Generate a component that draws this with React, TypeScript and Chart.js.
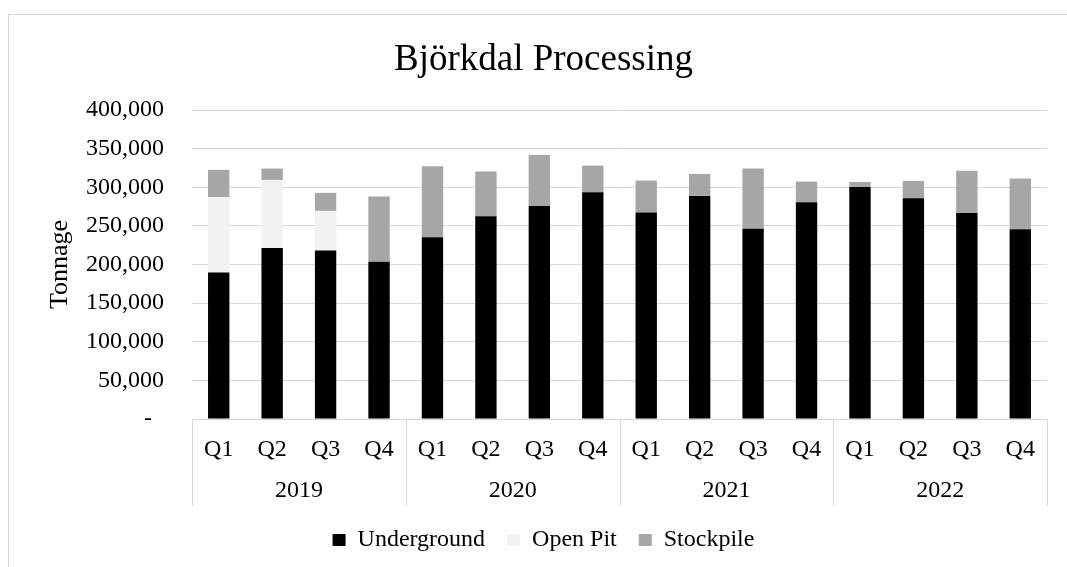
import React, { useEffect, useRef } from "react";
import { Chart, registerables } from "chart.js";

Chart.register(...registerables);

const quarters = ["Q1", "Q2", "Q3", "Q4", "Q1", "Q2", "Q3", "Q4", "Q1", "Q2", "Q3", "Q4", "Q1", "Q2", "Q3", "Q4"];
const years = ["2019", "2020", "2021", "2022"];
const underground = [189500, 221500, 218000, 203700, 235200, 262400, 275800, 293500, 267200, 288800, 246400, 280500, 300400, 285700, 266800, 245500];
const openPit = [97500, 88000, 51400, 0, 0, 0, 0, 0, 0, 0, 0, 0, 0, 0, 0, 0];
const stockpile = [35500, 14700, 23300, 84200, 91900, 57900, 66100, 34500, 41400, 28500, 77800, 26800, 6500, 22500, 54400, 65700];
const seriesNames = ["Underground", "Open Pit", "Stockpile"];
const seriesColors = ["#000000", "#f2f2f2", "#a6a6a6"];

const FONT = "'Liberation Serif', 'Times New Roman', serif";
const GRID = "#d9d9d9";

const groupLines = {
  id: "groupLines",
  afterDraw(chart: any) {
    const xs = chart.scales.x;
    const x2 = chart.scales.x2;
    const ctx = chart.ctx;
    const n = years.length;
    ctx.save();
    ctx.strokeStyle = GRID;
    ctx.lineWidth = 1;
    for (let i = 0; i <= n; i++) {
      const x = Math.round(xs.left + (i * (xs.right - xs.left)) / n) + 0.5;
      ctx.beginPath();
      ctx.moveTo(x, chart.chartArea.bottom);
      ctx.lineTo(x, x2.bottom);
      ctx.stroke();
    }
    ctx.restore();
  },
};

export default function App() {
  const ref = useRef<HTMLCanvasElement | null>(null);
  useEffect(() => {
    if (!ref.current) return;
    const chart = new Chart(ref.current, {
      type: "bar",
      data: {
        labels: quarters,
        datasets: [underground, openPit, stockpile].map((d, i) => ({
          label: seriesNames[i],
          data: d,
          backgroundColor: seriesColors[i],
          borderWidth: 0,
          categoryPercentage: 1,
          barPercentage: 0.4,
        })),
      },
      options: {
        animation: false,
        responsive: false,
        maintainAspectRatio: false,
        layout: { padding: { left: 40, right: 20, top: 0, bottom: 5 } },
        plugins: {
          title: {
            display: true,
            text: "Björkdal Processing",
            color: "#000",
            font: { family: FONT, size: 37, weight: "normal" },
            padding: { top: 38, bottom: 27.6 },
          },
          legend: {
            position: "bottom",
            labels: {
              color: "#000",
              font: { family: FONT, size: 24 },
              boxWidth: 13,
              boxHeight: 12,
              padding: 22,
            },
          },
          tooltip: { enabled: false },
        },
        scales: {
          x: {
            stacked: true,
            grid: { display: false },
            border: { display: false },
            ticks: { color: "#000", font: { family: FONT, size: 24 }, padding: 8, maxRotation: 0, autoSkip: false },
            afterFit: (s: any) => {
              s.height = 41;
            },
          },
          x2: {
            type: "category",
            labels: years,
            position: "bottom",
            weight: 1,
            offset: true,
            grid: { display: false },
            border: { display: false },
            ticks: { color: "#000", font: { family: FONT, size: 24 }, padding: 8, maxRotation: 0 },
            afterFit: (s: any) => {
              s.height = 46;
            },
          },
          y: {
            stacked: true,
            min: 0,
            max: 400000,
            ticks: {
              stepSize: 50000,
              color: "#000",
              font: { family: FONT, size: 24 },
              padding: 28,
              callback: (v: any) => (Number(v) === 0 ? "-  " : Number(v).toLocaleString("en-US")),
            },
            grid: { color: GRID, lineWidth: 1, drawTicks: false },
            border: { display: false },
            title: {
              display: true,
              text: "Tonnage",
              color: "#000",
              font: { family: FONT, size: 26 },
              padding: { top: 5, bottom: 0 },
            },
            afterFit: (s: any) => {
              s.width = 152;
            },
          },
        },
      },
      plugins: [groupLines],
    } as any);
    return () => chart.destroy();
  }, []);
  return (
    <div style={{ position: "absolute", left: 0, top: 0, width: 1067, height: 567, background: "#fff", overflow: "hidden" }}>
      <div style={{ position: "absolute", left: 8, top: 14, width: 1080, height: 600, border: `1px solid ${GRID}` }} />
      <canvas ref={ref} width={1067} height={567} style={{ position: "absolute", left: 0, top: 0 }} />
    </div>
  );
}
